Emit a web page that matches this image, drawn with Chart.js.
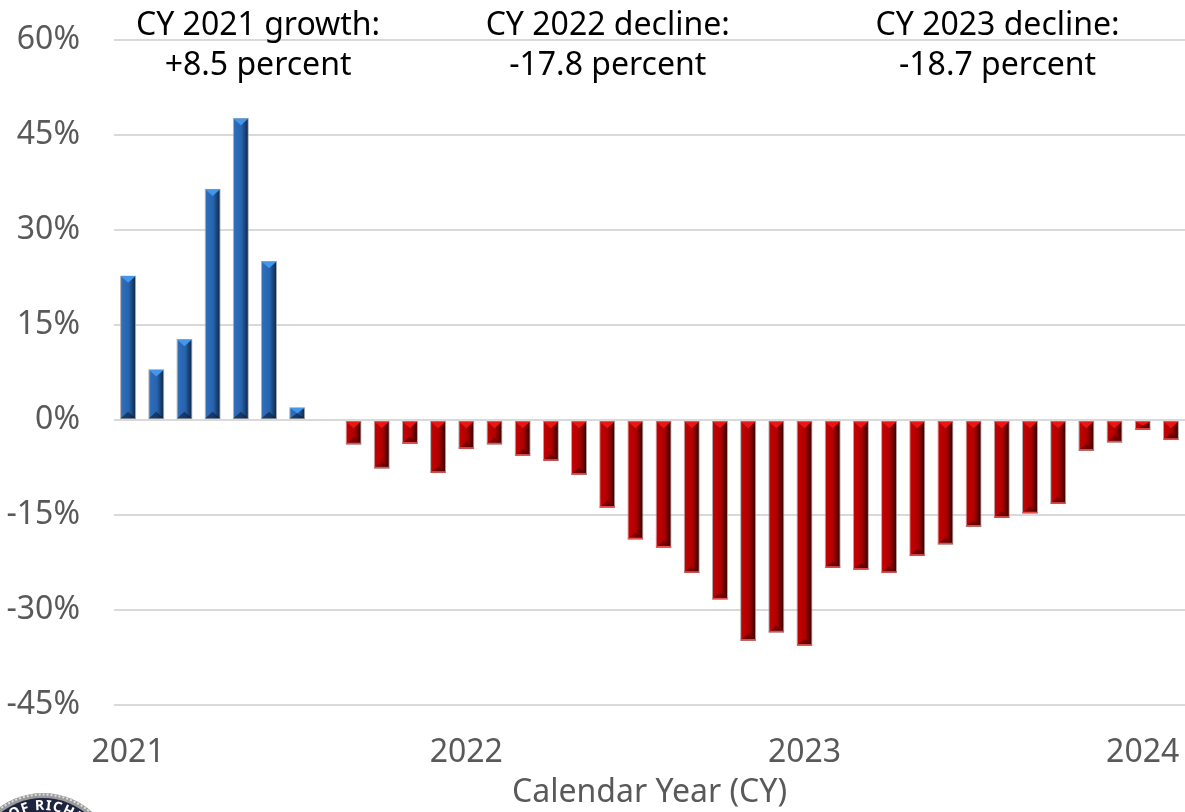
<!DOCTYPE html>
<html>
<head>
<meta charset="utf-8">
<script src="https://cdn.jsdelivr.net/npm/chart.js@4.4.1/dist/chart.umd.min.js"></script>
<style>
  html, body { margin: 0; padding: 0; background: #fff; }
  #wrap { width: 1185px; height: 812px; position: relative; }
</style>
</head>
<body>
<div id="wrap"><canvas id="chart"></canvas></div>
<script>
// monthly year-over-year change, Jan 2021 - Feb 2024
const months = [
  '2021-01', '2021-02', '2021-03', '2021-04', '2021-05', '2021-06',
  '2021-07', '2021-08', '2021-09', '2021-10', '2021-11', '2021-12',
  '2022-01', '2022-02', '2022-03', '2022-04', '2022-05', '2022-06',
  '2022-07', '2022-08', '2022-09', '2022-10', '2022-11', '2022-12',
  '2023-01', '2023-02', '2023-03', '2023-04', '2023-05', '2023-06',
  '2023-07', '2023-08', '2023-09', '2023-10', '2023-11', '2023-12',
  '2024-01', '2024-02'
];
const growth = [
  22.8, 8.0, 12.8, 36.5, 47.7, 25.1, 2.0, 0.1, -3.9, -7.7, -3.8, -8.4,
  -4.6, -3.9, -5.7, -6.5, -8.7, -13.9, -18.9, -20.2, -24.2, -28.4, -34.9, -33.6,
  -35.7, -23.4, -23.7, -24.2, -21.5, -19.7, -16.9, -15.5, -14.8, -13.3, -4.9, -3.6,
  -1.6, -3.2
];
const noteTitles = ['CY 2021 growth:', 'CY 2022 decline:', 'CY 2023 decline:'];
const noteValues = ['+8.5 percent', '-17.8 percent', '-18.7 percent'];

const FONT = '"Noto Sans", "Open Sans", sans-serif';
const BAR_PCT = 0.57;

// horizontal shading so the bars look rounded
function barFill(ctx) {
  const chart = ctx.chart;
  const xs = chart.scales.x;
  if (!xs || !chart.chartArea) return '#2a64ad';
  const cx = xs.getPixelForValue(ctx.dataIndex);
  const half = xs.width / months.length * BAR_PCT / 2;
  const g = chart.ctx.createLinearGradient(cx - half, 0, cx + half, 0);
  if (growth[ctx.dataIndex] >= 0) {
    g.addColorStop(0, '#5590d8');
    g.addColorStop(0.1, '#2f6ebb');
    g.addColorStop(0.55, '#2763ad');
    g.addColorStop(0.75, '#1a457a');
    g.addColorStop(1, '#0c2240');
  } else {
    g.addColorStop(0, '#dc1a1a');
    g.addColorStop(0.1, '#c40000');
    g.addColorStop(0.55, '#ad0000');
    g.addColorStop(0.75, '#700000');
    g.addColorStop(1, '#2c0000');
  }
  return g;
}

// bevelled ends on every bar
const bevel = {
  id: 'bevel',
  afterDatasetsDraw(chart) {
    const c = chart.ctx;
    const tri = (x1, y1, x2, y2, x3, y3) => {
      c.beginPath(); c.moveTo(x1, y1); c.lineTo(x2, y2); c.lineTo(x3, y3); c.closePath(); c.fill();
    };
    c.save();
    chart.getDatasetMeta(0).data.forEach((bar, i) => {
      const h = Math.abs(bar.base - bar.y);
      if (h < 3) return;
      const l = bar.x - bar.width / 2 + 0.5, r = bar.x + bar.width / 2 - 0.5;
      const top = Math.min(bar.y, bar.base), bot = Math.max(bar.y, bar.base);
      const d = Math.min(bar.width * 0.45, h / 2);
      const pos = growth[i] >= 0;
      c.fillStyle = pos ? '#4496ea' : '#ea1616';
      tri(l, top + 0.5, r, top + 0.5, bar.x, top + d);
      c.fillStyle = pos ? 'rgba(8,28,56,0.6)' : 'rgba(70,0,0,0.55)';
      tri(l, bot - 0.5, r, bot - 0.5, bar.x, bot - d);
      if (!pos) {
        c.fillStyle = '#e25050';
        c.fillRect(l, bot - 2, r - l, 1.5);
      }
    });
    c.restore();
  }
};

// period notes above the bars
const notes = {
  id: 'notes',
  afterDraw(chart, args, opts) {
    const c = chart.ctx;
    const a = chart.chartArea;
    c.save();
    c.font = '32px ' + FONT;
    c.fillStyle = '#000';
    c.textAlign = 'center';
    c.textBaseline = 'alphabetic';
    noteTitles.forEach((t, i) => {
      const x = a.left + opts.at[i] * (a.right - a.left);
      c.fillText(t, x, 35);
      c.fillText(noteValues[i], x, 75);
    });
    c.restore();
  }
};

// the partly cut-off seal in the lower left corner
const seal = {
  id: 'seal',
  afterDraw(chart) {
    const c = chart.ctx;
    const cx = 43, cy = 866, R = 73;
    c.save();
    c.beginPath(); c.arc(cx, cy, R, 0, Math.PI * 2); c.fillStyle = '#9a9a9a'; c.fill();
    c.beginPath(); c.arc(cx, cy, R - 1.5, 0, Math.PI * 2);
    c.setLineDash([2, 2]); c.strokeStyle = '#e0e0e0'; c.lineWidth = 2; c.stroke();
    c.setLineDash([]);
    c.beginPath(); c.arc(cx, cy, R - 5, 0, Math.PI * 2); c.fillStyle = '#1d2440'; c.fill();
    c.font = 'bold 14px ' + FONT;
    c.fillStyle = '#fff';
    c.textAlign = 'center';
    c.textBaseline = 'alphabetic';
    const txt = 'OF RICHMOND';
    const rad = 56;
    let ang = -0.6;
    for (const ch of txt) {
      const w = c.measureText(ch).width + 1;
      const mid = ang + w / 2 / rad;
      c.save();
      c.translate(cx + rad * Math.sin(mid), cy - rad * Math.cos(mid));
      c.rotate(mid);
      c.fillText(ch, 0, 0);
      c.restore();
      ang += w / rad;
    }
    c.restore();
  }
};

// keep axis boxes at fixed sizes, no label overhang padding
function fixSize(w, h) {
  return scale => {
    if (w) scale.width = w;
    if (h) scale.height = h;
    scale.paddingLeft = 0; scale.paddingRight = 0;
    scale.paddingTop = 0; scale.paddingBottom = 0;
  };
}

new Chart(document.getElementById('chart'), {
  type: 'bar',
  data: {
    labels: months,
    datasets: [{
      data: growth,
      backgroundColor: barFill,
      borderColor: 'rgba(160,160,160,0.85)',
      borderWidth: 1,
      borderSkipped: false,
      barPercentage: BAR_PCT,
      categoryPercentage: 1
    }]
  },
  options: {
    responsive: true,
    maintainAspectRatio: false,
    animation: false,
    layout: { padding: { top: 40, left: 5, right: 0, bottom: 0 } },
    plugins: {
      legend: { display: false },
      tooltip: { enabled: false },
      notes: { at: [0.1345, 0.461, 0.825] }
    },
    scales: {
      x: {
        afterFit: fixSize(0, 107),
        grid: { display: false, drawTicks: false },
        border: { display: false },
        ticks: {
          autoSkip: false,
          maxRotation: 0,
          minRotation: 0,
          padding: 29,
          color: '#595959',
          font: { family: FONT, size: 32 },
          callback: function (v, i) {
            const m = months[i];
            return m.endsWith('-01') ? m.slice(0, 4) : '';
          }
        },
        title: {
          display: true,
          text: 'Calendar Year (CY)',
          color: '#595959',
          font: { family: FONT, size: 32 },
          padding: { top: 0, bottom: 0 }
        }
      },
      y: {
        min: -45,
        max: 60,
        afterFit: fixSize(109, 0),
        grid: { color: '#d9d9d9', lineWidth: 2, drawTicks: false },
        border: { display: false },
        ticks: {
          stepSize: 15,
          padding: 34,
          color: '#595959',
          font: { family: FONT, size: 32 },
          callback: v => v + '%'
        }
      }
    }
  },
  plugins: [bevel, notes, seal]
});
</script>
</body>
</html>
